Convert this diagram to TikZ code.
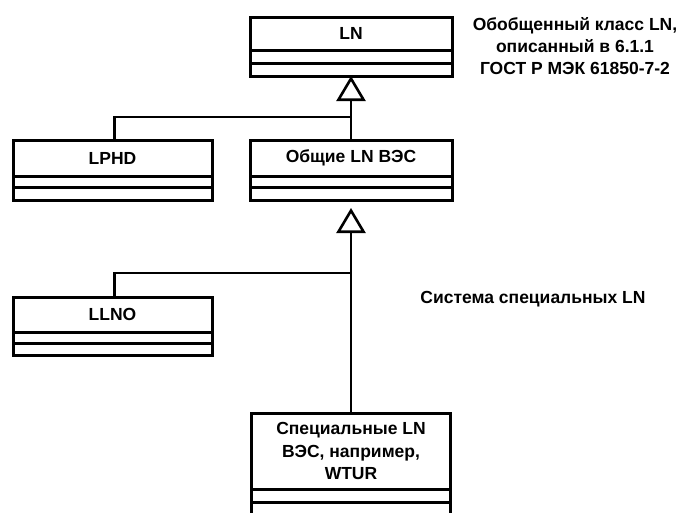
\documentclass[tikz,border=0pt]{standalone}
\usepackage{fontspec}
\setmainfont{Liberation Sans}
\usetikzlibrary{arrows.meta}
\begin{document}
\begin{tikzpicture}[x=1pt,y=-1pt,
  namebox/.style={draw, line width=3pt, inner sep=0pt, outer sep=0pt, anchor=north west,
    font=\fontsize{17.5}{22.5}\selectfont\bfseries, align=center},
  comp/.style={draw, line width=3pt, inner sep=0pt, outer sep=0pt, anchor=north west},
  conn/.style={line width=2.6pt},
  gen/.style={-{Triangle[open, width=29pt, length=25pt, line width=2.6pt]}},
  lbl/.style={font=\fontsize{17.5}{22}\selectfont\bfseries, align=center, inner sep=0pt}
]
\useasboundingbox (0,0) rectangle (685,512);
\fill[white] (0,0) rectangle (685,512);

% LN
\node[namebox, minimum width=202pt, minimum height=33pt] (ln) at (250,17) {LN};
\node[comp, minimum width=202pt, minimum height=13pt] (ln1) at (250,50) {};
\node[comp, minimum width=202pt, minimum height=13pt] (ln2) at (250,63) {};

% LPHD
\node[namebox, minimum width=199pt, minimum height=36pt] (lphd) at (13,140) {LPHD};
\node[comp, minimum width=199pt, minimum height=11pt] (lphd1) at (13,176) {};
\node[comp, minimum width=199pt, minimum height=13pt] (lphd2) at (13,187) {};

% Obshchie LN VES
\node[namebox, minimum width=202pt, minimum height=36pt] (obsh) at (250,140) {Общие LN ВЭС};
\node[comp, minimum width=202pt, minimum height=11pt] (obsh1) at (250,176) {};
\node[comp, minimum width=202pt, minimum height=13pt] (obsh2) at (250,187) {};

% LLNO
\node[namebox, minimum width=199pt, minimum height=35pt] (llno) at (13,297) {LLNO};
\node[comp, minimum width=199pt, minimum height=11pt] (llno1) at (13,332) {};
\node[comp, minimum width=199pt, minimum height=12pt] (llno2) at (13,343) {};

% Special LN
\node[namebox, minimum width=199pt, minimum height=76pt] (spec) at (251.5,413) {Специальные LN\\ВЭС, например,\\WTUR};
\node[comp, minimum width=199pt, minimum height=13pt] (spec1) at (251.5,489) {};
\node[comp, minimum width=199pt, minimum height=13pt] (spec2) at (251.5,502) {};

% side labels
\node[lbl] (t1) at (575,46) {Обобщенный класс LN,\\описанный в 6.1.1\\ГОСТ Р МЭК 61850-7-2};
\node[lbl] (t2) at (533,299) {Система специальных LN};

% connectors
\coordinate (j1) at (351,117);
\coordinate (j2) at (351,273);
\draw[conn, gen] (obsh.north) -- (ln2.south);
\draw[conn] ([xshift=2pt]lphd.north) |- (j1);
\draw[conn, gen, shorten >=8pt] (spec.north) -- (obsh2.south);
\draw[conn] ([xshift=2pt]llno.north) |- (j2);
\end{tikzpicture}
\end{document}
